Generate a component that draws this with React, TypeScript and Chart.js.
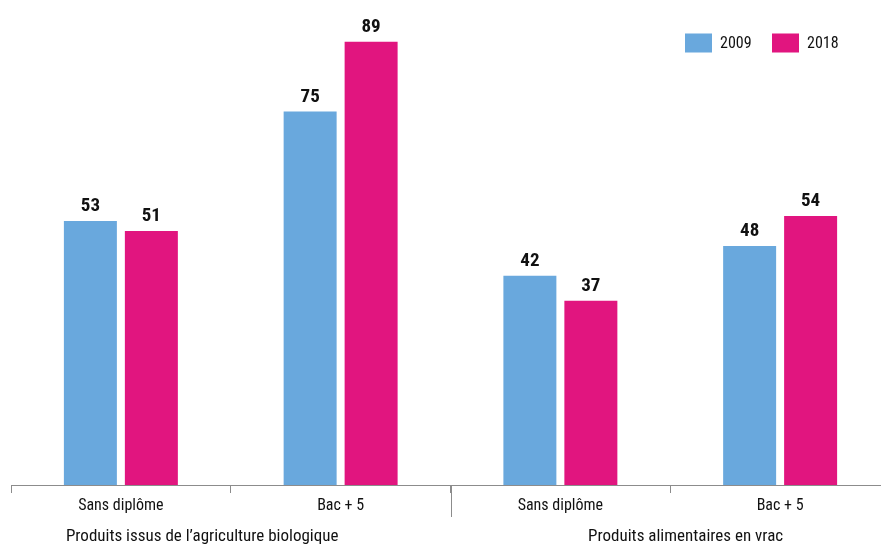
import React, { useEffect, useRef } from "react";
import { Chart, registerables } from "chart.js";

Chart.register(...registerables);

const categories = ["Sans diplôme", "Bac + 5", "Sans diplôme", "Bac + 5"];
const groups = ["Produits issus de l’agriculture biologique", "Produits alimentaires en vrac"];
const series2009 = [53, 75, 42, 48];
const series2018 = [51, 89, 37, 54];
const seriesLabels = ["2009", "2018"];
const colors = ["#69A8DD", "#E1157F"];

const FONT = "'Roboto Condensed', 'DejaVu Sans Condensed', sans-serif";

const valueLabels = {
  id: "valueLabels",
  afterDatasetsDraw(chart: any) {
    const ctx = chart.ctx;
    ctx.save();
    ctx.font = `bold 19px ${FONT}`;
    ctx.fillStyle = "#111";
    ctx.textAlign = "center";
    ctx.textBaseline = "alphabetic";
    chart.data.datasets.forEach((ds: any, i: number) => {
      const meta = chart.getDatasetMeta(i);
      meta.data.forEach((el: any, j: number) => {
        ctx.fillText(String(ds.data[j]), el.x, el.y - 10);
      });
    });
    ctx.restore();
  },
};

const groupDecor = {
  id: "groupDecor",
  afterDraw(chart: any) {
    const ctx = chart.ctx;
    const xs = chart.scales.x;
    const bottom = chart.chartArea.bottom;
    const p0 = xs.getPixelForValue(0);
    const p1 = xs.getPixelForValue(1);
    const p2 = xs.getPixelForValue(2);
    const p3 = xs.getPixelForValue(3);
    const step = p1 - p0;
    const sep = (p1 + p2) / 2;
    ctx.save();
    ctx.strokeStyle = "#8c8c8c";
    ctx.lineWidth = 1;
    ctx.beginPath();
    ctx.moveTo(Math.round(sep) + 0.5, bottom);
    ctx.lineTo(Math.round(sep) + 0.5, bottom + 32);
    ctx.stroke();
    ctx.font = `17px ${FONT}`;
    ctx.fillStyle = "#111";
    ctx.textAlign = "center";
    ctx.textBaseline = "alphabetic";
    ctx.fillText(groups[0], (p0 + p1) / 2 - step * 0.13, bottom + 56);
    ctx.fillText(groups[1], (p2 + p3) / 2 + step * 0.07, bottom + 56);

    // legend
    ctx.font = `16px ${FONT}`;
    ctx.textAlign = "left";
    ctx.textBaseline = "middle";
    let x = 685;
    const y = 43;
    chart.data.datasets.forEach((ds: any) => {
      ctx.fillStyle = ds.backgroundColor;
      ctx.fillRect(x, y - 9.5, 27, 19);
      ctx.fillStyle = "#111";
      ctx.fillText(ds.label, x + 35, y + 1);
      x += 87;
    });
    ctx.restore();
  },
};

export default function App() {
  const ref = useRef<HTMLCanvasElement>(null);
  useEffect(() => {
    document.body.style.margin = "0";
    document.body.style.overflow = "hidden";
    const chart = new Chart(ref.current!, {
      type: "bar",
      data: {
        labels: categories,
        datasets: [
          { label: seriesLabels[0], data: series2009, backgroundColor: colors[0] },
          { label: seriesLabels[1], data: series2018, backgroundColor: colors[1] },
        ],
      },
      options: {
        animation: false,
        responsive: false,
        maintainAspectRatio: false,
        categoryPercentage: 0.555,
        barPercentage: 0.869,
        layout: { padding: { left: 11, right: 5, top: 0, bottom: 0 } },
        plugins: { legend: { display: false }, tooltip: { enabled: false } },
        scales: {
          x: {
            offset: true,
            afterFit: (s: any) => {
              s.height = 62;
            },
            grid: {
              display: true,
              offset: true,
              drawOnChartArea: false,
              drawTicks: true,
              tickLength: 8,
              color: "#8c8c8c",
            },
            border: { display: true, color: "#8c8c8c", width: 1 },
            ticks: {
              color: "#111",
              padding: 3,
              font: { family: FONT, size: 16 },
              maxRotation: 0,
            },
          },
          y: { display: false, min: 0, max: 97.4 },
        },
      },
      plugins: [valueLabels, groupDecor],
    });
    return () => chart.destroy();
  }, []);
  return (
    <div style={{ width: 881, height: 547, overflow: "hidden", background: "#fff" }}>
      <canvas ref={ref} width={895} height={547} style={{ display: "block" }} />
    </div>
  );
}
